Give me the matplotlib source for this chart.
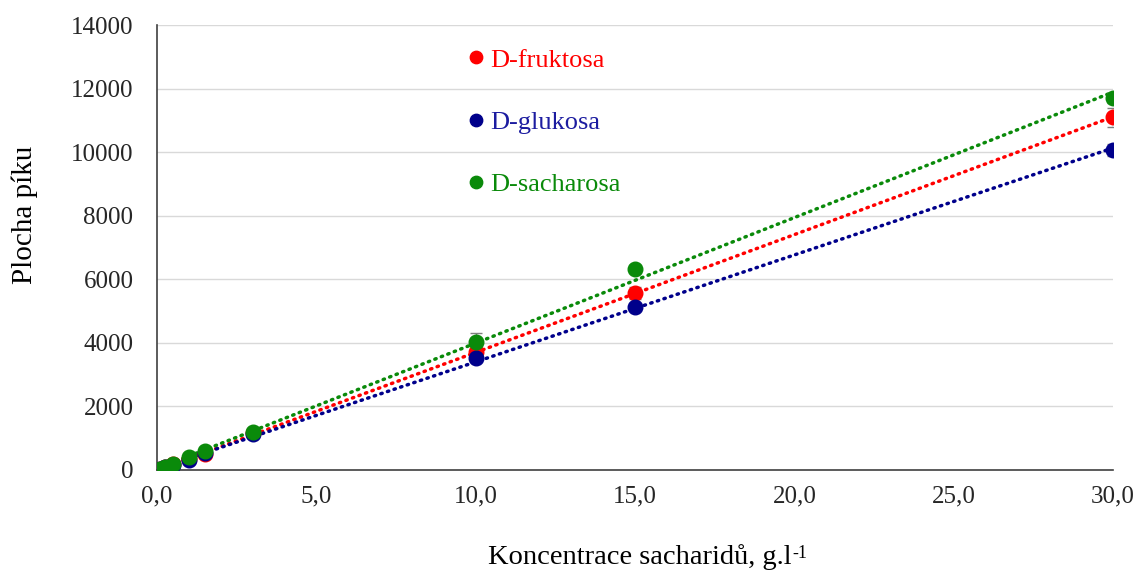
import numpy as np
import matplotlib
matplotlib.use("Agg")
import matplotlib.pyplot as plt
from matplotlib.ticker import FuncFormatter, MultipleLocator

plt.rcParams['font.family'] = ['Liberation Serif', 'DejaVu Serif']

# Concentration of saccharides (g/l)
conc = [0.1, 0.25, 0.5, 1.0, 1.5, 3.0, 10.0, 15.0, 30.0]

# Peak areas
fruktosa = [35, 90, 180, 360, 490, 1150, 3700, 5570, 11100]
glukosa = [30, 80, 165, 330, 520, 1120, 3530, 5130, 10060]
sacharosa = [40, 100, 200, 410, 590, 1210, 4030, 6330, 11700]

# Standard deviations
fruktosa_err = [10, 15, 20, 30, 30, 40, 120, 190, 300]
glukosa_err = [10, 15, 20, 25, 30, 40, 100, 90, 190]
sacharosa_err = [10, 15, 20, 30, 30, 40, 280, 110, 150]

series = [
    ("D-fruktosa", fruktosa, fruktosa_err, "#ff0000", "#ff0000"),
    ("D-glukosa", glukosa, glukosa_err, "#00008b", "#1c1ca0"),
    ("D-sacharosa", sacharosa, sacharosa_err, "#0a8a0a", "#0a8a0a"),
]

fig = plt.figure(figsize=(11.41, 5.74), dpi=100)
ax = fig.add_axes([157 / 1141, 1 - 470 / 574, (1113 - 157) / 1141, (470 - 25) / 574])

xfit = np.array([0.0, 30.0])
handles = []
for name, vals, err, col, tcol in series:
    x = np.array(conc)
    y = np.array(vals)
    k, q = np.polyfit(x, y, 1)
    ax.plot(xfit, k * xfit + q, color=col, lw=2.5,
            linestyle=(0, (0.4, 1.6)), dash_capstyle='round', zorder=2)
    ax.errorbar(conc, vals, yerr=err, fmt='none', ecolor='#7f7f7f',
                elinewidth=1, capsize=4, capthick=1, zorder=3)
    h, = ax.plot(conc, vals, 'o', color=col, markersize=10.5, zorder=4,
                 label=name)
    handles.append((h, tcol))

ax.set_xlim(0, 30)
ax.set_ylim(0, 14000)
ax.xaxis.set_major_locator(MultipleLocator(5))
ax.yaxis.set_major_locator(MultipleLocator(2000))
ax.xaxis.set_major_formatter(FuncFormatter(lambda v, p: f"{v:.1f}".replace('.', ',')))
ax.yaxis.set_major_formatter(FuncFormatter(lambda v, p: f"{int(v)}"))

ax.grid(axis='y', color='#d9d9d9', lw=1)
ax.set_axisbelow(True)
for s in ['top', 'right']:
    ax.spines[s].set_visible(False)
for s in ['left', 'bottom']:
    ax.spines[s].set_color('#404040')
    ax.spines[s].set_linewidth(1.2)
ax.tick_params(length=0, labelsize=18, colors='#262626')
ax.tick_params(axis='y', pad=17)
ax.tick_params(axis='x', pad=11)

# Axis titles
fig.text(25 / 1141, 1 - 215 / 574, "Plocha píku", rotation=90,
         ha='center', va='center', fontsize=21)
xl = fig.text(640 / 1141, 1 - 557 / 574, "Koncentrace sacharidů, g.l",
              ha='center', va='center', fontsize=20.5)
ax.annotate("-1", xy=(1.0, 1.0), xycoords=xl, xytext=(0.5, -1),
            textcoords='offset points', ha='left', va='top', fontsize=13)

leg = ax.legend(handles=[h for h, _ in handles], loc='upper left',
                bbox_to_anchor=(456 / 1141, 1 - 35 / 574), bbox_transform=fig.transFigure,
                frameon=False, fontsize=19, handlelength=0.5, handletextpad=0.3,
                labelspacing=1.47, borderpad=0, markerscale=0.85)
for txt, (_, tcol) in zip(leg.get_texts(), handles):
    txt.set_color(tcol)

fig.savefig("out.png", dpi=100, facecolor='white')
